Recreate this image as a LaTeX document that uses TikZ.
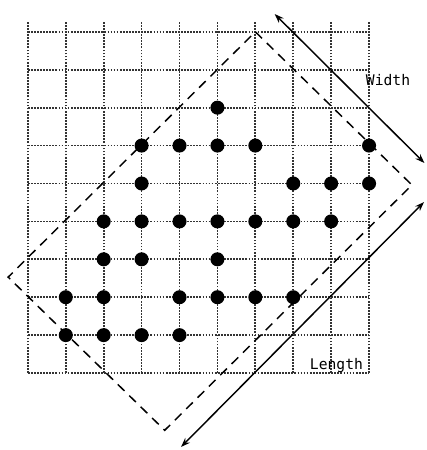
\documentclass[tikz,border=0pt]{standalone}
\usepackage{fontspec}
\newfontfamily\plotfont{DejaVu Sans Mono}
\usetikzlibrary{arrows.meta,calc}
\begin{document}
\begin{tikzpicture}[
    gridline/.style={densely dotted, line width=1.3pt, black!80},
    spot/.style={circle, fill=black, inner sep=0pt, minimum size=0.37cm},
    frame/.style={dash pattern=on 7pt off 5pt, line width=1.1pt},
    arrow/.style={<->, >={Stealth[length=7pt,width=5pt]}, line width=1.1pt},
    lbl/.style={font=\plotfont\fontsize{11}{13}\selectfont}
  ]
  \useasboundingbox (-0.735,-2.03) rectangle (10.52,9.84);
  \foreach \i in {0,...,9} \draw[gridline] (\i,0) -- (\i,9.28);
  \foreach \j in {0,...,9} \draw[gridline] (0,\j) -- (9,\j);

  \foreach \x/\y in {5/7, 3/6,4/6,5/6,6/6,9/6, 3/5,7/5,8/5,9/5,
                     2/4,3/4,4/4,5/4,6/4,7/4,8/4, 2/3,3/3,5/3,
                     1/2,2/2,4/2,5/2,6/2,7/2, 1/1,2/1,3/1,4/1}
    \node[spot] at (\x,\y) {};

  \coordinate (top) at (6,9);
  \coordinate (right) at (10.13,4.96);
  \coordinate (bottom) at (3.61,-1.51);
  \coordinate (left) at (-0.52,2.53);
  \draw[frame] (top) -- (right) -- (bottom) -- (left) -- cycle;

  \coordinate (w1) at (6.51,9.47);
  \coordinate (w2) at (10.46,5.54);
  \draw[arrow] (w1) -- (w2);
  \coordinate (l1) at (10.45,4.51);
  \coordinate (l2) at (4.04,-1.95);
  \draw[arrow] (l1) -- (l2);

  \node[lbl] (width) at (9.5,7.73) {Width};
  \node[lbl] (length) at (8.14,0.21) {Length};
\end{tikzpicture}
\end{document}
